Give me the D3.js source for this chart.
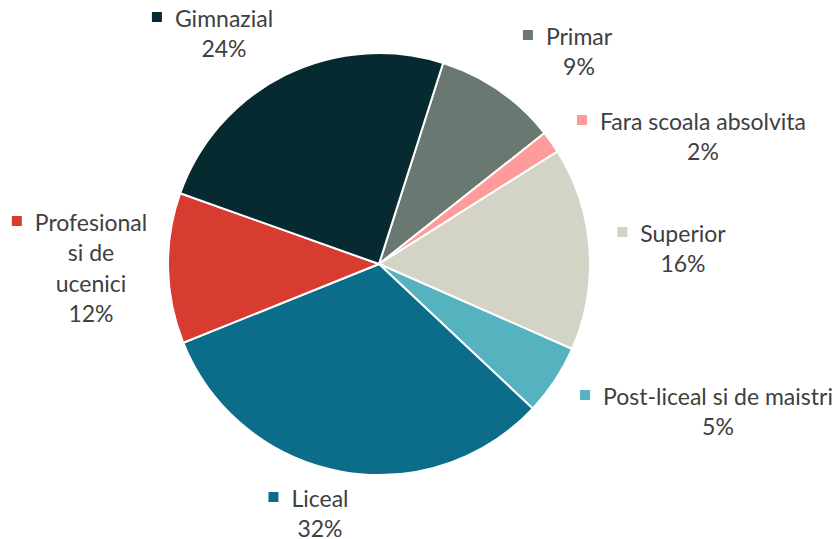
<!DOCTYPE html>
<html>
<head>
  <meta charset="utf-8">
  <title>Nivel de educatie</title>
  <script src="https://d3js.org/d3.v7.min.js"></script>
  <style>
    body { margin: 0; background: #fff; }
    text { font-family: Lato, "Liberation Sans", sans-serif; fill: #404040; }
  </style>
</head>
<body>
<svg width="837" height="539"></svg>
<script>
  // data, in clockwise order starting from the first slice
  const categories = ["Primar", "Fara scoala absolvita", "Superior", "Post-liceal si de maistri", "Liceal", "Profesional si de ucenici", "Gimnazial"];
  const values = [9.4, 1.7, 15.5, 5.4, 31.8, 11.5, 24.4];
  const colors = ["#6a7872", "#ff9b9b", "#d3d4c6", "#54b3bf", "#0b6d8a", "#d83c31", "#062a30"];

  // where each label sits: center x of the text, baseline of first line, wrapped lines
  const labelLayout = [
    { x: 579, y: 45, lines: ["Primar"] },
    { x: 703, y: 130, lines: ["Fara scoala absolvita"] },
    { x: 683, y: 242, lines: ["Superior"] },
    { x: 718, y: 405, lines: ["Post-liceal si de maistri"] },
    { x: 320, y: 507, lines: ["Liceal"] },
    { x: 91, y: 231, lines: ["Profesional", "si de", "ucenici"] },
    { x: 224, y: 27, lines: ["Gimnazial"] }
  ];

  const svg = d3.select("svg");
  const cx = 379, cy = 264, radius = 211;
  const lineH = 30.3;

  const total = d3.sum(values);
  const data = categories.map((c, i) => ({ name: c, value: values[i], color: colors[i], lab: labelLayout[i] }));

  const startA = 17.7 * Math.PI / 180;
  const pie = d3.pie().value(d => d.value).sort(null)
      .startAngle(startA).endAngle(startA + 2 * Math.PI);
  const arc = d3.arc().innerRadius(0).outerRadius(radius);

  const g = svg.append("g").attr("transform", `translate(${cx},${cy})`);
  g.selectAll("path")
      .data(pie(data))
      .enter().append("path")
      .attr("d", arc)
      .attr("fill", d => d.data.color)
      .attr("stroke", "#fff")
      .attr("stroke-width", 2)
      .attr("stroke-linejoin", "round");

  // labels
  const labels = svg.selectAll(".lbl")
      .data(data)
      .enter().append("g")
      .attr("class", "lbl");

  labels.each(function(d) {
    const sel = d3.select(this);
    const lines = d.lab.lines.concat([Math.round(d.value / total * 100) + "%"]);
    const t = sel.append("text")
        .attr("text-anchor", "middle")
        .style("font-size", "23px");
    lines.forEach((ln, i) => {
      t.append("tspan")
          .attr("x", d.lab.x)
          .attr("y", d.lab.y + i * lineH)
          .text(ln);
    });
    // legend key to the left of the first line
    const w = t.select("tspan").node().getComputedTextLength();
    sel.append("rect")
        .attr("x", d.lab.x - w / 2 - 23)
        .attr("y", d.lab.y - 15)
        .attr("width", 10)
        .attr("height", 10)
        .attr("fill", d.color);
  });
</script>
</body>
</html>
